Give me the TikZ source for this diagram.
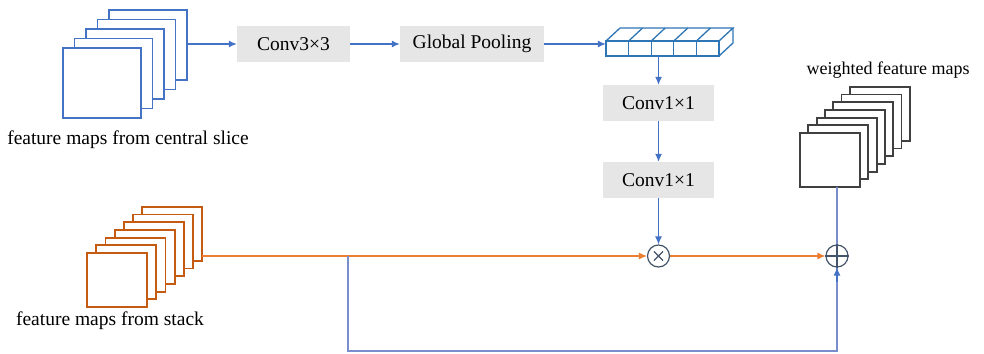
\documentclass[tikz,border=0pt]{standalone}
\usepackage{fontspec}
\setmainfont{Liberation Serif}
\usetikzlibrary{arrows.meta,calc,positioning}
\definecolor{FlowBlue}{RGB}{68,114,196}
\definecolor{SkipBlue}{RGB}{120,142,205}
\definecolor{FlowOrange}{RGB}{237,125,49}
\definecolor{StackOrange}{RGB}{197,90,17}
\definecolor{CubeBlue}{RGB}{46,117,182}
\definecolor{BoxGray}{RGB}{231,230,230}
\definecolor{OpSlate}{RGB}{68,84,106}
\definecolor{MapGray}{RGB}{64,64,64}
% stack of maps: x, y (front top-left), w, h, last index, dx, dy, colour
\newcommand{\mapstack}[8]{%
  \foreach \k in {#5,...,0}{%
    \draw[#8,line width=1.8pt,fill=white] ({#1+\k*#6},{#2+\k*#7}) rectangle ++(#3,#4);}}

\begin{document}
\begin{tikzpicture}[x=1pt,y=-1pt,font=\fontsize{19.5}{23}\selectfont,
  convbox/.style={fill=BoxGray,inner sep=0pt,minimum height=36pt},
  opnode/.style={circle,draw=OpSlate,line width=1.2pt,minimum size=22pt,inner sep=0pt},
  blueflow/.style={FlowBlue,line width=1.1pt,-{Latex[length=8pt,width=7pt]}},
  orangeflow/.style={FlowOrange,line width=1.1pt,-{Latex[length=8pt,width=7pt]}},
  skipflow/.style={SkipBlue,line width=1.4pt}]
  \useasboundingbox (0,0) rectangle (984,353);

  % input maps
  \mapstack{63}{48}{78}{70}{4}{11.5}{-9.5}{FlowBlue}
  \node[inner sep=0pt,minimum width=124pt,minimum height=108pt] (central) at (125,64) {};
  \node (centrallbl) at (128,140) {feature maps from central slice};
  \mapstack{87}{253}{60}{54}{6}{9.2}{-7.7}{StackOrange}
  \node[inner sep=0pt,minimum width=115pt,minimum height=100pt] (stack) at (144.5,257) {};
  \node (stacklbl) at (110,321) {feature maps from stack};

  % top branch
  \node[convbox,minimum width=113pt] (conv3) at (293.5,44) {Conv3×3};
  \node[convbox,minimum width=144pt] (gpool) at (472,44) {Global Pooling};

  % pooled vector
  \node[inner sep=0pt,minimum width=113pt,minimum height=15pt] (vec) at (662.5,48.5) {};
  \begin{scope}[CubeBlue,line width=1.3pt]
    \foreach \i in {0,...,4}{
      \draw ({606+\i*22.6},41) rectangle ++(22.6,15);
      \draw ({606+\i*22.6},41) -- ++(14,-13);}
    \draw (719,41) -- (733,28) -- (620,28);
    \draw (719,56) -- (733,43) -- (733,28);
  \end{scope}

  \node[convbox,minimum width=111pt] (conv1a) at (658.5,103) {Conv1×1};
  \node[convbox,minimum width=111pt] (conv1b) at (658.5,180) {Conv1×1};

  % operators
  \node[opnode] (mul) at (658.5,256) {};
  \draw[OpSlate,line width=1.1pt] ($(mul.center)!0.55!(mul.north west)$) -- ($(mul.center)!0.55!(mul.south east)$)
    ($(mul.center)!0.55!(mul.north east)$) -- ($(mul.center)!0.55!(mul.south west)$);
  \node[opnode] (add) at (837,256) {};
  \draw[OpSlate,line width=1.1pt] (add.north) -- (add.south) (add.west) -- (add.east);

  % output maps
  \mapstack{800}{133}{60}{54}{6}{8.3}{-7.7}{MapGray}
  \node[inner sep=0pt,minimum width=110pt,minimum height=100pt] (wstack) at (855,137) {};
  \node (wlbl) at (888,70) {\fontsize{18}{21}\selectfont weighted feature maps};

  % connectors
  \draw[blueflow] (conv3.west -| central.east) -- (conv3.west);
  \draw[blueflow] (conv3) -- (gpool);
  \draw[blueflow] (gpool.east) -- (gpool.east -| vec.west);
  \draw[blueflow] (vec.south -| conv1a) -- (conv1a.north);
  \draw[blueflow] (conv1a) -- (conv1b);
  \draw[blueflow] (conv1b) -- (mul);
  \draw[orangeflow] (mul.west -| stack.east) -- (mul.west);
  \draw[orangeflow] (mul) -- (add);
  \coordinate (split) at (348,256);
  \coordinate (skipbot) at (348,351);
  \draw[skipflow] (split) -- (skipbot) -| (add.south);
  \draw[FlowBlue,line width=1.1pt,-{Latex[length=8pt,width=7pt]}] ($(add.south)+(0,14)$) -- (add.south);
  \draw[skipflow] (add.north) -- (add.north |- wstack.south);
\end{tikzpicture}
\end{document}
